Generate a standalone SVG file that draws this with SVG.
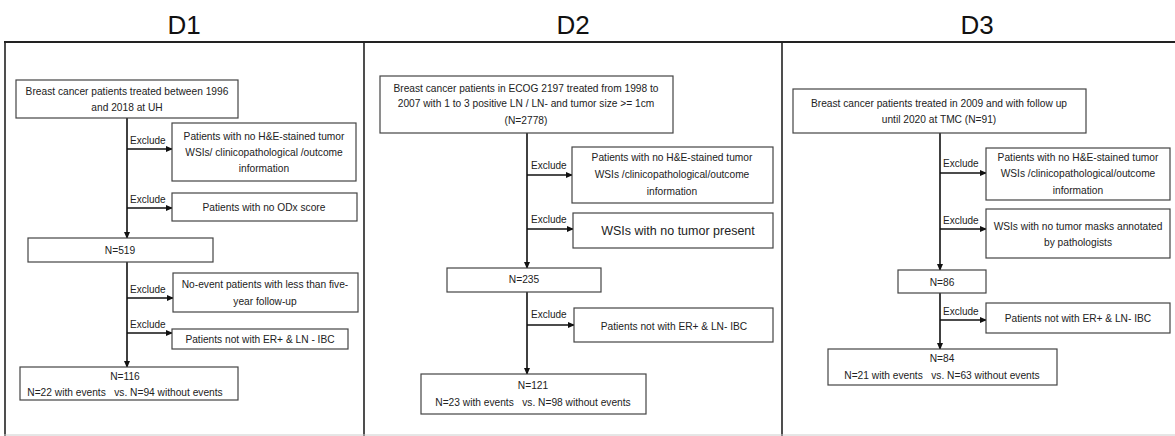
<svg xmlns="http://www.w3.org/2000/svg" width="1175" height="436" viewBox="0 0 1175 436">
<defs>
<marker id="ah" markerUnits="userSpaceOnUse" markerWidth="7" markerHeight="6" refX="6" refY="3" orient="auto">
<path d="M0,0 L7,3 L0,6 Z" fill="#111"/>
</marker>
<style>
.t{font-family:"Liberation Sans",Arial,sans-serif;font-size:10.2px;fill:#222;text-anchor:middle}
.ex{font-family:"Liberation Sans",Arial,sans-serif;font-size:10px;fill:#222}
.h{font-family:"Liberation Sans",Arial,sans-serif;font-size:26px;fill:#111;text-anchor:middle}
.b{fill:#fff;stroke:#444;stroke-width:1.2}
.c{stroke:#111;stroke-width:1.6;fill:none}
.a{stroke:#111;stroke-width:1.6;fill:none;marker-end:url(#ah)}
.f{stroke:#222;fill:none}
</style>
</defs>
<rect width="1175" height="436" fill="#fff"/>
<g id="frame">
<line class="f" x1="4" y1="42" x2="1175" y2="42" stroke-width="2.2"/>
<line class="f" x1="5" y1="42" x2="5" y2="436" stroke-width="1.6"/>
<line class="f" x1="364" y1="42" x2="364" y2="436" stroke-width="1.6"/>
<line class="f" x1="782" y1="42" x2="782" y2="436" stroke-width="1.6"/>
<line x1="4" y1="435" x2="1175" y2="435" stroke="#ccc" stroke-width="1"/>
</g>
<g id="titles">
<text class="h" x="184" y="34">D1</text>
<text class="h" x="573" y="34">D2</text>
<text class="h" x="977" y="34">D3</text>
</g>
<g id="connectors">
<line class="a" x1="127" y1="118" x2="127" y2="238"/>
<line class="a" x1="127" y1="149" x2="172" y2="149"/>
<line class="a" x1="127" y1="208" x2="172" y2="208"/>
<line class="a" x1="127" y1="262" x2="127" y2="367"/>
<line class="a" x1="127" y1="298" x2="173" y2="298"/>
<line class="a" x1="127" y1="333" x2="172" y2="333"/>
<line class="a" x1="527" y1="133" x2="527" y2="268"/>
<line class="a" x1="527" y1="175" x2="572" y2="175"/>
<line class="a" x1="527" y1="229" x2="573" y2="229"/>
<line class="a" x1="527" y1="292" x2="527" y2="374"/>
<line class="a" x1="527" y1="325" x2="574" y2="325"/>
<line class="a" x1="940" y1="133" x2="940" y2="270"/>
<line class="a" x1="940" y1="173" x2="986" y2="173"/>
<line class="a" x1="940" y1="229" x2="986" y2="229"/>
<line class="a" x1="940" y1="293" x2="940" y2="349"/>
<line class="a" x1="940" y1="320" x2="986" y2="320"/>
<text class="ex" x="130" y="144">Exclude</text>
<text class="ex" x="130" y="203">Exclude</text>
<text class="ex" x="130" y="293">Exclude</text>
<text class="ex" x="130" y="328">Exclude</text>
<text class="ex" x="531" y="169">Exclude</text>
<text class="ex" x="531" y="223">Exclude</text>
<text class="ex" x="531" y="318">Exclude</text>
<text class="ex" x="943" y="167">Exclude</text>
<text class="ex" x="943" y="224">Exclude</text>
<text class="ex" x="943" y="315">Exclude</text>
</g>
<g id="d1-start">
<rect class="b" x="16" y="80" width="222" height="38"/>
<text class="t" x="127" y="95">Breast cancer patients treated between 1996</text>
<text class="t" x="127" y="111">and 2018 at UH</text>
</g>
<g id="d1-ex1">
<rect class="b" x="172" y="123" width="184" height="58"/>
<text class="t" x="264" y="140">Patients with no H&amp;E-stained tumor</text>
<text class="t" x="264" y="156">WSIs/ clinicopathological /outcome</text>
<text class="t" x="264" y="172">information</text>
</g>
<g id="d1-ex2">
<rect class="b" x="172" y="193" width="185" height="28"/>
<text class="t" x="264" y="211">Patients with no ODx score</text>
</g>
<g id="d1-n519">
<rect class="b" x="28" y="238" width="185" height="24"/>
<text class="t" x="120" y="254">N=519</text>
</g>
<g id="d1-ex3">
<rect class="b" x="173" y="273" width="185" height="39"/>
<text class="t" x="265" y="288">No-event patients with less than five-</text>
<text class="t" x="265" y="305">year follow-up</text>
</g>
<g id="d1-ex4">
<rect class="b" x="172" y="329" width="176" height="20"/>
<text class="t" x="260" y="343">Patients not with ER+ &amp; LN - IBC</text>
</g>
<g id="d1-final">
<rect class="b" x="20" y="367" width="218" height="33"/>
<text class="t" x="125" y="380">N=116</text>
<text class="t" x="125" y="396" xml:space="preserve">N=22 with events   vs. N=94 without events</text>
</g>
<g id="d2-start">
<rect class="b" x="380" y="76" width="293" height="57"/>
<text class="t" x="526" y="92">Breast cancer patients in ECOG 2197 treated from 1998 to</text>
<text class="t" x="526" y="107">2007 with 1 to 3 positive LN / LN- and tumor size &gt;= 1cm</text>
<text class="t" x="526" y="124">(N=2778)</text>
</g>
<g id="d2-ex1">
<rect class="b" x="572" y="147" width="201" height="56"/>
<text class="t" x="672" y="161">Patients with no H&amp;E-stained tumor</text>
<text class="t" x="672" y="178">WSIs /clinicopathological/outcome</text>
<text class="t" x="672" y="195">information</text>
</g>
<g id="d2-ex2">
<rect class="b" x="573" y="213" width="200" height="35"/>
<text class="t" x="678" y="235" style="font-size:12.5px">WSIs with no tumor present</text>
</g>
<g id="d2-n235">
<rect class="b" x="447" y="268" width="154" height="24"/>
<text class="t" x="524" y="283">N=235</text>
</g>
<g id="d2-ex3">
<rect class="b" x="574" y="308" width="199" height="34"/>
<text class="t" x="674" y="330">Patients not with ER+ &amp; LN- IBC</text>
</g>
<g id="d2-final">
<rect class="b" x="421" y="374" width="225" height="40"/>
<text class="t" x="533" y="389">N=121</text>
<text class="t" x="533" y="406" xml:space="preserve">N=23 with events   vs. N=98 without events</text>
</g>
<g id="d3-start">
<rect class="b" x="793" y="89" width="293" height="44"/>
<text class="t" x="939" y="107">Breast cancer patients treated in 2009 and with follow up</text>
<text class="t" x="939" y="123">until 2020 at TMC (N=91)</text>
</g>
<g id="d3-ex1">
<rect class="b" x="986" y="148" width="184" height="52"/>
<text class="t" x="1078" y="161">Patients with no H&amp;E-stained tumor</text>
<text class="t" x="1078" y="177">WSIs /clinicopathological/outcome</text>
<text class="t" x="1078" y="194">information</text>
</g>
<g id="d3-ex2">
<rect class="b" x="986" y="209" width="184" height="49"/>
<text class="t" x="1078" y="230">WSIs with no tumor masks annotated</text>
<text class="t" x="1078" y="246">by pathologists</text>
</g>
<g id="d3-n86">
<rect class="b" x="898" y="270" width="88" height="23"/>
<text class="t" x="942" y="286">N=86</text>
</g>
<g id="d3-ex3">
<rect class="b" x="986" y="303" width="184" height="30"/>
<text class="t" x="1078" y="322">Patients not with ER+ &amp; LN- IBC</text>
</g>
<g id="d3-final">
<rect class="b" x="828" y="349" width="229" height="36"/>
<text class="t" x="942" y="362">N=84</text>
<text class="t" x="942" y="379" xml:space="preserve">N=21 with events   vs. N=63 without events</text>
</g>
</svg>
